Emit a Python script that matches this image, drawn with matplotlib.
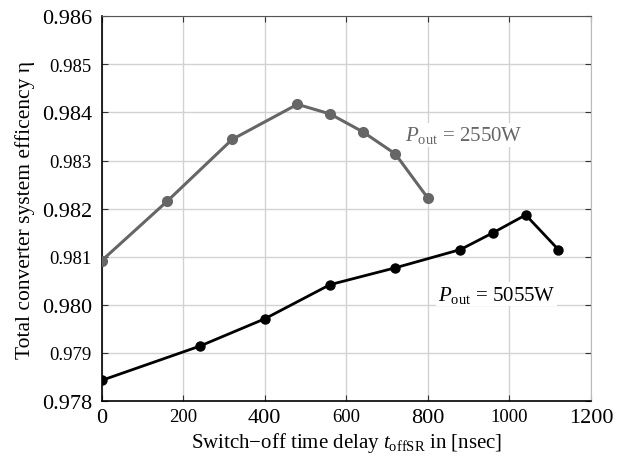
import matplotlib
matplotlib.use('Agg')
import matplotlib.pyplot as plt

plt.rcParams['font.family'] = ['Liberation Serif', 'DejaVu Serif']
plt.rcParams['mathtext.fontset'] = 'custom'
plt.rcParams['mathtext.rm'] = 'Liberation Serif'
plt.rcParams['mathtext.it'] = 'Liberation Serif:italic'

# data
delay_2550 = [0, 160, 320, 480, 560, 640, 720, 800]
eff_2550 = [0.98092, 0.98215, 0.98344, 0.98417, 0.98397, 0.98360, 0.98314, 0.98222]

delay_5055 = [0, 240, 400, 560, 720, 880, 960, 1040, 1120]
eff_5055 = [0.97843, 0.97914, 0.97971, 0.98042, 0.98077, 0.98115, 0.98150, 0.98187, 0.98115]

x_ticks = [0, 200, 400, 600, 800, 1000, 1200]
y_ticks = [0.978, 0.979, 0.980, 0.981, 0.982, 0.983, 0.984, 0.985, 0.986]

fig = plt.figure(figsize=(6.24, 4.6), dpi=100)
ax = fig.add_axes([0.163, 0.126, 0.784, 0.8364])

ax.plot(delay_2550, eff_2550, color='#666666', lw=2.2, marker='o', ms=7, zorder=3)
ax.plot(delay_5055, eff_5055, color='black', lw=2.0, marker='o', ms=6.5, zorder=3)

ax.set_xlim(0, 1200)
ax.set_ylim(0.978, 0.986)
ax.set_xticks(x_ticks)
ax.set_yticks(y_ticks)
ax.set_yticklabels(['%.3f' % v for v in y_ticks])

ax.grid(True, color='#d2d2d2', lw=1.0)
ax.set_axisbelow(True)
ax.tick_params(direction='in', length=4, top=True, right=True, color='#333333')
ax.tick_params(axis='y', pad=7)
ax.tick_params(axis='x', pad=5)

for i, lab in enumerate(ax.get_xticklabels()):
    lab.set_fontsize(16 if i % 2 == 0 else 13.5)
for i, lab in enumerate(ax.get_yticklabels()):
    lab.set_fontsize(16 if i % 2 == 0 else 13.5)

for side in ['left', 'bottom']:
    ax.spines[side].set_color('black')
    ax.spines[side].set_linewidth(1.2)
ax.spines['top'].set_color('#555555')
ax.spines['right'].set_color('#bbbbbb')

ax.set_xlabel(r'Switch$-$off time delay $t_{\mathrm{offSR}}$ in [nsec]', fontsize=15, labelpad=2)
ax.set_ylabel('Total converter system efficency η', fontsize=15.5, labelpad=5)

ax.text(888, 0.98354, r'$P_{\mathrm{out}}$ = 2550W', color='#666666', fontsize=15,
        ha='center', va='center', zorder=4,
        bbox=dict(facecolor='white', edgecolor='none', pad=1))
ax.text(968, 0.98022, r'$P_{\mathrm{out}}$ = 5055W', color='black', fontsize=15,
        ha='center', va='center', zorder=4,
        bbox=dict(facecolor='white', edgecolor='none', pad=1))

fig.savefig('out.png', dpi=100)
